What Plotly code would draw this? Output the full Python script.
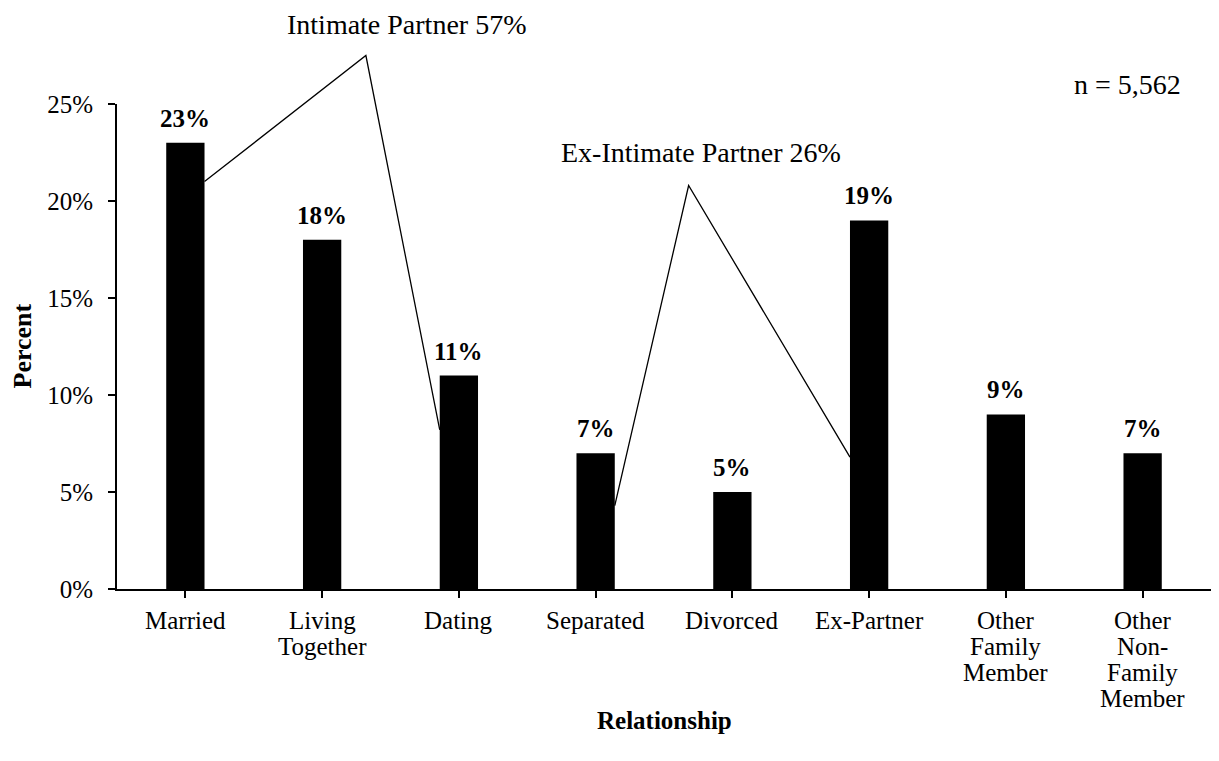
import plotly.graph_objects as go

# data
categories = ["Married", "Living<br>Together", "Dating", "Separated", "Divorced",
              "Ex-Partner", "Other<br>Family<br>Member", "Other<br>Non-<br>Family<br>Member"]
percent = [23, 18, 11, 7, 5, 19, 9, 7]
y_ticks = [0, 5, 10, 15, 20, 25]

group_labels = ["Intimate Partner 57%", "Ex-Intimate Partner 26%"]
# bracket polylines: (category index, percent)
intimate_x = [0.14, 1.32, 1.86]
intimate_y = [21.0, 27.5, 8.2]
ex_intimate_x = [3.14, 3.68, 4.86]
ex_intimate_y = [4.3, 20.8, 6.8]
n_label = "n = 5,562"

YMAX = 25
FONT = "Liberation Serif, Times New Roman, serif"
TICK_SIZE = 25
NOTE_SIZE = 28

fig = go.Figure()
fig.add_trace(go.Bar(
    x=list(range(len(categories))), y=percent,
    width=0.28, marker=dict(color="black", line=dict(width=0)),
    hoverinfo="skip",
))

# bold value labels above bars
for i, v in enumerate(percent):
    fig.add_annotation(x=i, y=v, text="<b>%d%%</b>" % v, showarrow=False,
                       xref="x", yref="y", yanchor="bottom", yshift=9,
                       font=dict(family=FONT, size=25, color="black"))

# category labels, one line at a time for tighter line spacing
for i, lab in enumerate(categories):
    for k, line in enumerate(lab.split("<br>")):
        fig.add_annotation(x=i, y=0, text=line, showarrow=False,
                           xref="x", yref="paper", xanchor="center", yanchor="middle",
                           yshift=-(31 + 26 * k),
                           font=dict(family=FONT, size=TICK_SIZE, color="black"))

# bracket lines (y in paper units so they can rise above the axis top)
def poly(xs, ys):
    path = "M %s,%s" % (xs[0], ys[0] / YMAX)
    for x, y in zip(xs[1:], ys[1:]):
        path += " L %s,%s" % (x, y / YMAX)
    return path

for xs, ys in [(intimate_x, intimate_y), (ex_intimate_x, ex_intimate_y)]:
    fig.add_shape(type="path", path=poly(xs, ys), xref="x", yref="paper",
                  line=dict(color="black", width=1.3))

# group / sample labels (paper y so they can sit above the axis top)
for txt, x, y in [(group_labels[0], 1.62, 29.1), (group_labels[1], 3.77, 22.5),
                  (n_label, 6.89, 26.0)]:
    fig.add_annotation(x=x, y=y / YMAX, text=txt, showarrow=False,
                       xref="x", yref="paper", xanchor="center", yanchor="middle",
                       font=dict(family=FONT, size=NOTE_SIZE, color="black"))

# axis titles
fig.add_annotation(x=0, y=0.5, xref="paper", yref="paper", xshift=-95,
                   xanchor="center", yanchor="middle",
                   text="<b>Percent</b>", textangle=-90, showarrow=False,
                   font=dict(family=FONT, size=26, color="black"))
fig.add_annotation(x=0.5, y=0, xref="paper", yref="paper", yshift=-131,
                   xanchor="center", yanchor="middle",
                   text="<b>Relationship</b>", showarrow=False,
                   font=dict(family=FONT, size=25, color="black"))

fig.update_layout(
    width=1211, height=753,
    margin=dict(l=109, r=8, t=96, b=172),
    plot_bgcolor="white", paper_bgcolor="white",
    showlegend=False,
    font=dict(family=FONT, size=TICK_SIZE, color="black"),
    xaxis=dict(
        tickvals=list(range(len(categories))), showticklabels=False,
        range=[-0.5, len(categories) - 0.5],
        tickson="boundaries", ticks="outside", ticklen=7, tickwidth=2,
        tickcolor="black", showline=True, linecolor="black", linewidth=2,
        showgrid=False, zeroline=False, fixedrange=True,
    ),
    yaxis=dict(
        range=[0, YMAX], tickvals=y_ticks, ticktext=["%d%%" % t for t in y_ticks],
        ticks="outside", ticklen=7, tickwidth=2, tickcolor="black",
        ticklabelstandoff=10,
        showline=True, linecolor="black", linewidth=2,
        showgrid=False, zeroline=False, fixedrange=True,
    ),
)

fig.write_html("out.html", config={"displayModeBar": False})
